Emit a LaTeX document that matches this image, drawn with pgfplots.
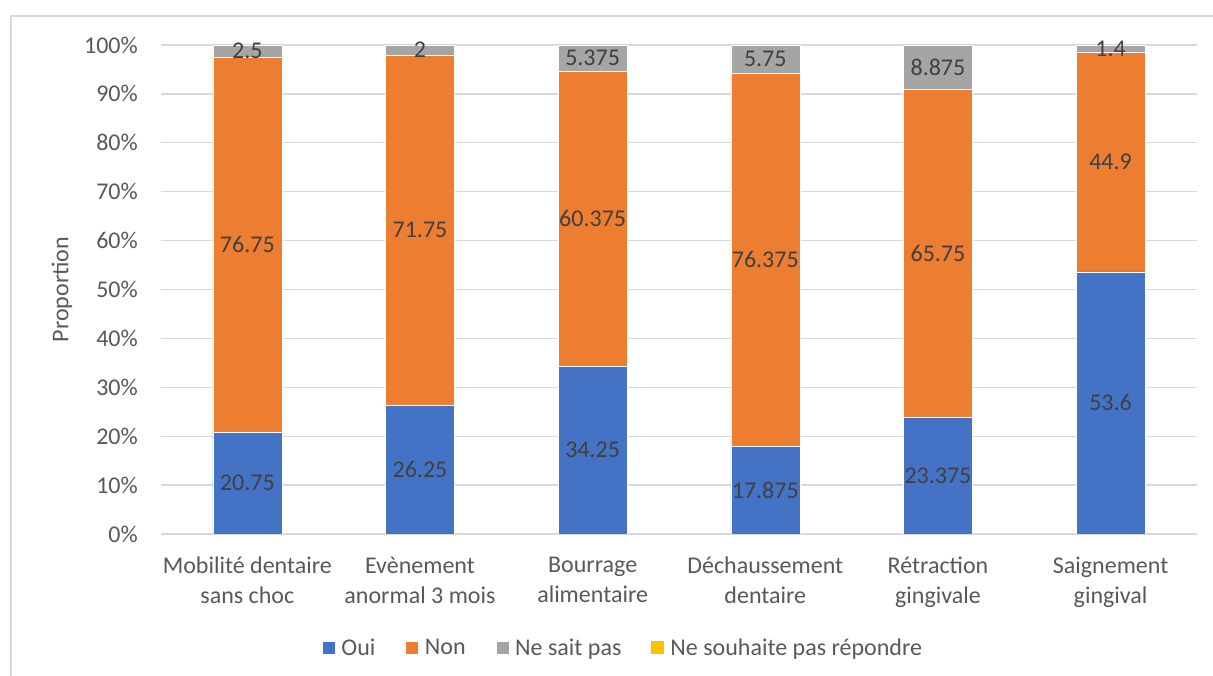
\documentclass[border=0pt]{standalone}
\usepackage{fontspec}
\setmainfont{Carlito}
\usepackage{pgfplots}
\pgfplotsset{compat=1.18}
\definecolor{cOui}{HTML}{4472C4}
\definecolor{cNon}{HTML}{ED7D31}
\definecolor{cNsp}{HTML}{A5A5A5}
\definecolor{cNspr}{HTML}{FFC000}
\definecolor{gridc}{HTML}{D9D9D9}
\definecolor{txtc}{HTML}{595959}
\definecolor{labc}{HTML}{404040}
\newcommand{\cf}{\fontsize{24}{30}\selectfont}
\begin{document}
\begin{tikzpicture}[x=1pt,y=1pt]
\path[use as bounding box] (0,0) rectangle (1213,676);
\fill[white] (0,0) rectangle (1213,676);
\draw[gridc, line width=1.3pt] (11,0) -- (11,660) -- (1213,660);
\begin{axis}[
  at={(161pt,142pt)}, anchor=south west,
  scale only axis, width=1036pt, height=489pt,
  ybar stacked, bar width=69pt,
  xmin=-0.5, xmax=5.5, ymin=0, ymax=100,
  xtick={0,1,2,3,4,5},
  xticklabels={{Mobilité dentaire\\sans choc},{Evènement\\anormal 3 mois},{Bourrage\\alimentaire},{Déchaussement\\dentaire},{Rétraction\\gingivale},{Saignement\\gingival}},
  ytick={0,10,...,100},
  yticklabels={0\%,10\%,20\%,30\%,40\%,50\%,60\%,70\%,80\%,90\%,100\%},
  ymajorgrids, grid style={gridc, line width=1.3pt},
  axis x line*=bottom, axis y line*=left,
  x axis line style={gridc, line width=1.3pt},
  y axis line style={draw=none},
  major tick length=0pt, tick style={draw=none},
  xticklabel style={font=\cf, text=txtc, align=center, inner sep=0pt, anchor=north, yshift=-23pt},
  yticklabel style={font=\cf, text=txtc, inner sep=0pt, anchor=east, xshift=-23pt},
  ylabel={Proportion},
  ylabel style={font=\cf, text=txtc, at={(axis description cs:-0.0956,0.5)}, anchor=center},
  legend columns=-1,
  legend style={draw=none, fill=none, font=\cf, text=txtc,
    at={(axis description cs:0.446,-0.233)}, anchor=center,
    /tikz/every odd column/.append style={column sep=4pt},
    /tikz/every even column/.append style={column sep=28pt}},
  legend image code/.code={\fill[#1] (0pt,-6.5pt) rectangle (13pt,6.5pt);},
  every axis plot/.append style={draw=white, line width=0.5pt},
]
\addplot[fill=cOui] coordinates {(0,20.75) (1,26.25) (2,34.25) (3,17.875) (4,23.852) (5,53.6)};
\addlegendentry{Oui}
\addplot[fill=cNon] coordinates {(0,76.75) (1,71.75) (2,60.375) (3,76.375) (4,67.092) (5,44.9)};
\addlegendentry{Non}
\addplot[fill=cNsp] coordinates {(0,2.5) (1,2) (2,5.375) (3,5.75) (4,9.056) (5,1.4)};
\addlegendentry{Ne sait pas}
\addplot[fill=cNspr, draw=none] coordinates {(0,0) (1,0) (2,0) (3,0) (4,0) (5,0.1)};
\addlegendentry{Ne souhaite pas répondre}
\end{axis}
\begin{axis}[
  at={(161pt,142pt)}, anchor=south west,
  scale only axis, width=1036pt, height=489pt,
  xmin=-0.5, xmax=5.5, ymin=0, ymax=100,
  hide axis,
  point meta=explicit symbolic,
  nodes near coords,
  every node near coord/.append style={anchor=center, font=\cf, text=labc, inner sep=0pt},
]
\addplot[only marks, mark=none] coordinates {
  (0,10.375) [20.75] (0,59.125) [76.75] (0,98.75) [2.5]
  (1,13.125) [26.25] (1,62.125) [71.75] (1,99) [2]
  (2,17.125) [34.25] (2,64.4375) [60.375] (2,97.3125) [5.375]
  (3,8.9375) [17.875] (3,56.0625) [76.375] (3,97.125) [5.75]
  (4,11.926) [23.375] (4,57.398) [65.75] (4,95.472) [8.875]
  (5,26.8) [53.6] (5,76.05) [44.9] (5,99.2) [1.4]
};
\end{axis}
\end{tikzpicture}
\end{document}
